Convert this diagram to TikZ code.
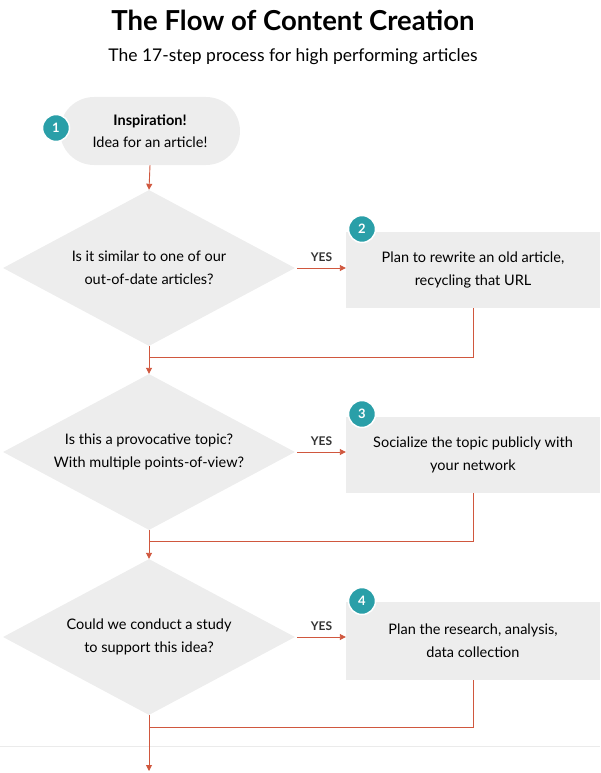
\documentclass[tikz,border=0pt]{standalone}
\usepackage{fontspec}
\setmainfont{Lato}
\usetikzlibrary{positioning,shapes.geometric,arrows.meta}
\definecolor{boxgray}{HTML}{EDEDED}
\definecolor{flowred}{HTML}{D0573E}
\definecolor{badgeteal}{HTML}{2A9FA8}
\tikzset{
  flow/.style={draw=flowred, line width=0.9pt, -{Triangle[length=6pt,width=6pt]}},
  question/.style={diamond, fill=boxgray, aspect=1.87, minimum width=292pt, minimum height=156pt, inner sep=0pt, align=center, font=\fontsize{14.5}{23}\selectfont},
  actionbox/.style={rectangle, fill=boxgray, minimum width=254pt, minimum height=76pt, align=center, font=\fontsize{14.5}{23}\selectfont},
  badge/.style={circle, fill=badgeteal, draw=white, line width=1.5pt, minimum size=27pt, inner sep=0pt, text=white, font=\bfseries\fontsize{13}{13}\selectfont},
  yeslabel/.style={font=\bfseries\fontsize{12}{12}\selectfont, text=black!80}
}
\begin{document}
\begin{tikzpicture}[x=1pt,y=-1pt]
\useasboundingbox (0,0) rectangle (600,773);
% Title
\node (title) at (293,20) {\bfseries\fontsize{27.5}{30}\selectfont The Flow of Content Creation};
\node (subtitle) at (293,57) {\fontsize{17.5}{20}\selectfont The 17-step process for high performing articles};

% Start
\node[fill=boxgray, rounded corners=34pt, minimum width=180pt, minimum height=68pt, align=center, font=\fontsize{14.5}{22}\selectfont] (start) at (150,131) {\textbf{Inspiration!}\\Idea for an article!};
\node[badge] (b1) at (56,128) {1};

% Question 1
\node[question] (q1) at (149,268) {Is it similar to one of our\\out-of-date articles?};
\node[actionbox] (a2) at (473,270) {Plan to rewrite an old article,\\recycling that URL};
\node[badge] (b2) at (362,229) {2};
\draw[flow] (start.south) -- (q1.north);
\draw[flow] (q1.east) ++(2,0) -- (a2.west |- q1.east) node[midway, above=3pt, yeslabel] {YES};
\coordinate (j1) at (149,357);

% Question 2
\node[question] (q2) at (149,452) {Is this a provocative topic?\\With multiple points-of-view?};
\node[actionbox] (a3) at (473,455) {Socialize the topic publicly with\\your network};
\node[badge] (b3) at (362,414) {3};
\draw[flow] (q1.south) -- (q2.north);
\draw[draw=flowred, line width=0.9pt] (a2.south) |- (j1);
\draw[flow] (q2.east) ++(2,0) -- (a3.west |- q2.east) node[midway, above=3pt, yeslabel] {YES};
\coordinate (j2) at (149,541);

% Question 3
\node[question] (q3) at (149,637) {Could we conduct a study\\to support this idea?};
\node[actionbox, minimum height=78pt] (a4) at (473,641) {Plan the research, analysis,\\data collection};
\node[badge] (b4) at (362,601) {4};
\draw[flow] (q2.south) -- (q3.north);
\draw[draw=flowred, line width=0.9pt] (a3.south) |- (j2);
\draw[flow] (q3.east) ++(2,0) -- (a4.west |- q3.east) node[midway, above=3pt, yeslabel] {YES};
\coordinate (j3) at (149,727);
\draw[draw=flowred, line width=0.9pt] (a4.south) |- (j3);

% Separator and exit
\draw[black!8, line width=1pt] (0,746) -- (600,746);
\coordinate (exit) at (149,771);
\draw[flow] (q3.south) -- (exit);
\end{tikzpicture}
\end{document}
